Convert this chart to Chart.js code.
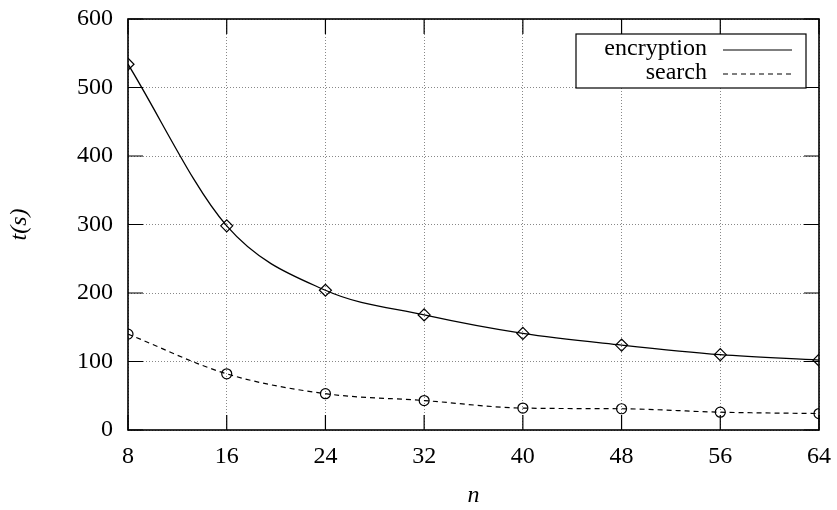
<!DOCTYPE html>
<html lang="en">
<head>
<meta charset="UTF-8">
<title>t(s) vs n</title>
<script src="https://cdn.jsdelivr.net/npm/chart.js@4"></script>
<style>
  body { margin: 0; background: #fff; }
</style>
</head>
<body>
<canvas id="chart" width="837" height="510"></canvas>
<script>
// data
const nValues = [8, 16, 24, 32, 40, 48, 56, 64];
const encryptionTimes = [534, 298, 204, 168, 141, 124, 110, 102];
const searchTimes = [140, 82, 53, 43, 32, 31, 26, 24];
const seriesNames = ["encryption", "search"];

const serif = "'Liberation Serif', 'Times New Roman', serif";
const toPoints = (ys) => nValues.map((n, i) => ({ x: n, y: ys[i] }));

// frame + inward ticks, gnuplot style
const framePlugin = {
  id: "frame",
  beforeDatasetsDraw(chart) {
    const { ctx, chartArea: a, scales } = chart;
    ctx.save();
    ctx.strokeStyle = "#000";
    ctx.lineWidth = 1.2;
    const len = 15;
    ctx.beginPath();
    scales.x.ticks.forEach((t) => {
      const px = scales.x.getPixelForValue(t.value);
      ctx.moveTo(px, a.bottom); ctx.lineTo(px, a.bottom - len);
      ctx.moveTo(px, a.top); ctx.lineTo(px, a.top + len);
    });
    scales.y.ticks.forEach((t) => {
      const py = scales.y.getPixelForValue(t.value);
      ctx.moveTo(a.left, py); ctx.lineTo(a.left + len, py);
      ctx.moveTo(a.right, py); ctx.lineTo(a.right - len, py);
    });
    ctx.stroke();
    ctx.lineWidth = 1.6;
    ctx.strokeRect(a.left, a.top, a.right - a.left, a.bottom - a.top);
    ctx.restore();
  },
  afterDraw(chart) {
    // legend box in the top right corner
    const { ctx, chartArea: a } = chart;
    const boxR = a.right - 13, boxT = a.top + 15;
    const boxW = 230, boxH = 54;
    ctx.save();
    ctx.fillStyle = "#fff";
    ctx.fillRect(boxR - boxW, boxT, boxW, boxH);
    ctx.strokeStyle = "#000";
    ctx.lineWidth = 1.2;
    ctx.strokeRect(boxR - boxW, boxT, boxW, boxH);
    ctx.font = "24px " + serif;
    ctx.textAlign = "right";
    ctx.textBaseline = "middle";
    ctx.fillStyle = "#000";
    chart.data.datasets.forEach((ds, i) => {
      const y = boxT + 15 + i * 24;
      ctx.fillText(ds.label, boxR - 99, y);
      ctx.beginPath();
      ctx.setLineDash(ds.borderDash || []);
      ctx.lineWidth = 1.2;
      ctx.moveTo(boxR - 83, y + 1);
      ctx.lineTo(boxR - 14, y + 1);
      ctx.stroke();
    });
    ctx.restore();
  }
};

new Chart(document.getElementById("chart"), {
  type: "line",
  data: {
    datasets: [
      {
        label: seriesNames[0],
        data: toPoints(encryptionTimes),
        borderColor: "#000",
        borderWidth: 1.3,
        cubicInterpolationMode: "monotone",
        pointStyle: "rectRot",
        pointRadius: 6,
        pointBorderWidth: 1.2,
        pointBorderColor: "#000",
        pointBackgroundColor: "rgba(0,0,0,0)",
        fill: false
      },
      {
        label: seriesNames[1],
        data: toPoints(searchTimes),
        borderColor: "#000",
        borderWidth: 1.2,
        borderDash: [5, 4],
        cubicInterpolationMode: "monotone",
        pointStyle: "circle",
        pointRadius: 5,
        pointBorderWidth: 1.2,
        pointBorderColor: "#000",
        pointBackgroundColor: "rgba(0,0,0,0)",
        fill: false
      }
    ]
  },
  options: {
    responsive: false,
    animation: false,
    layout: { padding: { left: 0, right: 18, top: 19, bottom: 0 } },
    plugins: {
      legend: { display: false },
      tooltip: { enabled: false }
    },
    scales: {
      x: {
        type: "linear",
        min: 8,
        max: 64,
        afterFit: (s) => { s.height = 80; s.paddingLeft = 0; s.paddingRight = 0; },
        ticks: {
          stepSize: 8,
          padding: 12,
          color: "#000",
          font: { family: serif, size: 24 }
        },
        grid: { color: "#888", drawTicks: false, lineWidth: 1 },
        border: { display: false, dash: [1, 2] },
        title: {
          display: true,
          text: "n",
          color: "#000",
          padding: { top: 6, bottom: 0 },
          font: { family: serif, size: 24, style: "italic" }
        }
      },
      y: {
        min: 0,
        max: 600,
        afterFit: (s) => { s.width = 128; s.paddingTop = 0; s.paddingBottom = 0; },
        ticks: {
          stepSize: 100,
          padding: 15,
          color: "#000",
          font: { family: serif, size: 24 }
        },
        grid: { color: "#888", drawTicks: false, lineWidth: 1 },
        border: { display: false, dash: [1, 2] },
        title: {
          display: true,
          text: "t(s)",
          color: "#000",
          padding: { top: 5, bottom: 0 },
          font: { family: serif, size: 24, style: "italic" }
        }
      }
    }
  },
  plugins: [framePlugin]
});
</script>
</body>
</html>
